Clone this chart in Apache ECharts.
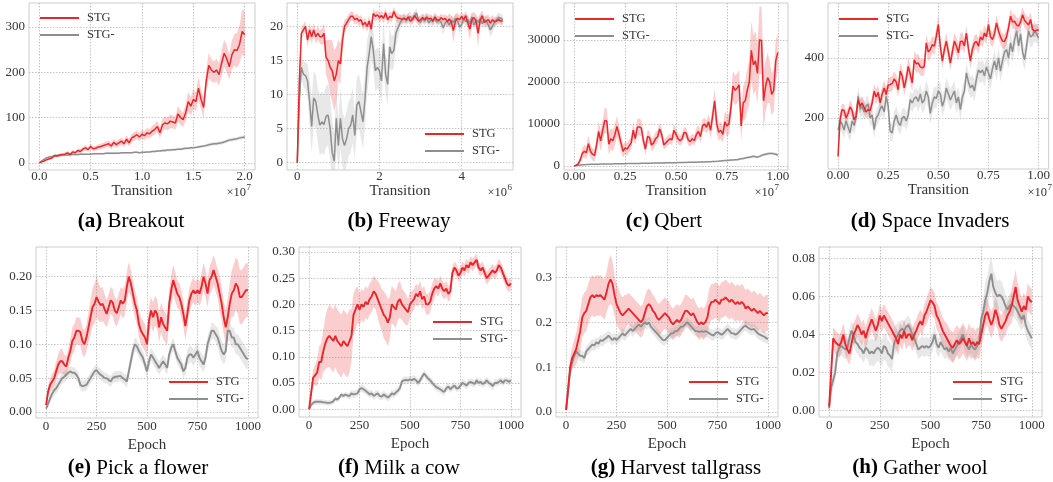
<!DOCTYPE html>
<html><head><meta charset="utf-8">
<script src="https://cdn.jsdelivr.net/npm/echarts@6/dist/echarts.min.js"></script>
<style>html,body{margin:0;padding:0;background:#fff}#c{width:1053px;height:482px}</style>
</head><body><div id="c"></div>
<script>
// ---------------- DATA ----------------
// (a) Breakout, x: 0..2.0 (x1e7), 81 samples
const breakoutStg = [0,2,4,7,9,11,16,15,17,18, 19,22,18,24,22,27,25,30,33,29, 36,31,32,35,36,38,40,42,37,45, 40,44,48,42,52,44,55,58,62,57, 63,60,66,64,70,74,80,66,84,88, 86,92,90,88,108,100,95,110,135,125, 140,135,165,140,122,180,215,205,200,205, 195,220,242,230,212,238,250,248,262,290, 283];
const breakoutStgSpread = [0,1,2,2,3,3,4,3,4,3, 4,4,4,5,4,5,5,5,6,5, 6,5,5,6,6,6,7,7,7,8, 7,8,8,8,9,8,9,10,10,9, 10,10,11,10,11,12,12,12,13,14, 14,15,14,15,18,16,16,18,22,20, 22,20,25,22,22,25,28,25,24,25, 25,28,30,30,28,32,35,38,42,50, 50];
const breakoutAbl = [0,4,8,11,13,14,15,16,16,17, 17,17,18,18,18,18,19,19,19,19, 19,20,20,20,20,20,21,21,21,21, 21,21,22,22,22,22,22,23,23,22, 23,23,24,24,25,25,26,26,27,27, 28,28,29,29,30,30,31,32,32,33, 33,34,35,36,37,38,40,41,42,42, 43,44,46,48,50,51,52,53,55,56, 57];
const breakoutAblSpread = [0,1,2,2,2,2,2,2,2,2, 2,2,2,2,2,2,2,2,2,2, 2,2,2,2,2,2,2,2,2,2, 2,2,2,2,2,2,2,2,2,2, 2,2,2,2,2,2,2,2,3,3, 3,3,3,3,3,3,3,3,3,3, 3,3,3,3,3,3,4,4,4,4, 4,4,4,4,4,4,4,4,4,4, 4];
const breakoutXTicks = [0,0.5,1,1.5,2];
const breakoutYTicks = [0,100,200,300];

// (b) Freeway, x: 0..5.0 (x1e6), 101 samples
const freewayStg = [0,12,19,19.5,20,18,19.5,18.5,19.5,18.5, 19,18.5,18.5,19,15.5,15,14,13.5,12,13, 15,14.5,18,20,20.5,21,21.5,21.5,21,21.2, 20.8,21,20.2,20.6,20,20.8,19.6,21.9,21.5,21.7, 21.3,21.6,21.2,22,21,21.5,21.3,22.2,21.5,21.2, 21.2,21.0,21.2,21.0,21.4,20.8,21.0,21.6,21.2,20.8, 21.0,21.3,21.0,21.4,21.1,21.2,20.8,21.4,21.0,20.9, 21.3,21.0,21.2,20.7,21.1,20.6,19.4,20.8,21.2,21.0, 21.5,21.0,21.6,20.5,19.6,21.0,21.3,20.8,19.0,20.9, 21.6,20.6,20.8,21.0,20.5,21.0,20.7,20.8,21.0,20.8, 20.8];
const freewayStgSpread = [0,1.5,1,0.8,0.8,1,1,1,1,1, 1,1,1.2,1.5,2.5,3,4,4.5,4.5,4, 3,3,2,1,0.8,0.8,0.7,0.7,0.7,0.7, 0.7,0.7,0.7,0.7,0.7,0.8,0.8,0.7,0.7,0.7, 0.7,0.7,0.7,0.7,0.7,0.7,0.7,0.7,0.7,0.7, 0.6,0.6,0.6,0.6,0.6,0.6,0.6,0.6,0.6,0.6, 0.6,0.6,0.6,0.6,0.6,0.6,0.6,0.6,0.6,0.6, 0.6,0.6,0.6,0.8,0.8,1,1.8,1,0.8,0.6, 0.7,0.7,0.7,1,1.5,1,0.8,1,2,1, 0.8,0.8,0.8,0.7,0.8,0.7,0.6,0.6,0.6,0.6, 0.6];
const freewayAbl = [0,9,14,13,12.8,12,9,5.3,9.5,9, 7,5.5,6,5.6,6.8,7,5,1.5,0.2,6.5, 2.5,6.5,3.5,2.5,3.5,5,5.5,7,4,8.5, 9,7.5,6,9.5,14,16,18.5,16.5,13.5,14, 13.5,12,17.5,13,11.5,17,16,16.5,19,19.8, 20.5,21,21.3,20.8,21.2,21.5,21,21.4,22,21, 20.6,21.2,20.8,21.3,20.5,21.0,20.7,21.2,20.6,21.0, 20.6,19.8,20.5,20.8,20.2,20.9,20.6,21.2,20.9,19.9, 20.3,21.2,20.7,21.0,20.4,21.4,20.2,21.0,20.6,21.1, 20.4,21.0,20.8,20.2,19.5,20.0,20.6,21.0,21.3,21.2, 21.0];
const freewayAblSpread = [0,2,1.5,2,2,2.5,3.5,4,4,4, 4,4.5,4.5,4.5,4.5,4.5,4.5,4.5,4,4.5, 4,4.5,4,4,4,4,4,4,3.5,4, 4,4,4,4,4,3.5,3,3,3,3, 3,3.5,3.5,3,3,3,2.5,2.5,2,1.5, 1,0.8,0.7,0.7,0.7,0.7,0.7,0.7,0.7,0.7, 0.7,0.7,0.7,0.7,0.7,0.7,0.7,0.7,0.7,0.7, 0.7,1,0.7,0.7,0.7,0.7,0.7,0.7,0.7,1, 0.7,0.7,0.7,0.7,0.7,0.7,0.7,0.7,0.7,0.7, 0.7,0.7,0.7,0.8,1,1,0.7,0.7,0.7,0.7, 0.7];
const freewayXTicks = [0,2,4];
const freewayYTicks = [0,5,10,15,20];

// (c) Qbert, x: 0..1.0 (x1e7), 101 samples
const qbertStg = [0,200,500,1500,3000,3500,3200,5300,3500,2800, 2500,5000,8200,6000,8500,10800,10700,5200,6500,6000, 7500,9400,7500,5500,3500,4300,4000,4800,5500,8500, 6500,9200,9300,9000,6000,4000,7000,6800,5000,5500, 6500,7000,8800,7500,5000,5500,6000,6500,6200,8500, 7500,6500,6000,6500,8000,7800,6200,5800,6500,6000, 7500,8200,7000,9500,10000,9200,10500,8500,12000,15500, 10000,8000,8500,7500,10500,9500,10000,14000,19000,18000, 18500,19300,9500,15000,15500,18000,20000,27500,24000,25000, 22000,30000,29800,15500,19000,21000,20000,17000,18000,25000, 27000];
const qbertStgSpread = [0,200,400,800,1200,1500,1500,2000,1500,1500, 1500,2000,2500,2500,2500,3000,3000,2500,2500,2500, 2500,2500,2000,2000,1500,1500,1500,1500,1500,2000, 1500,2000,2000,2000,1500,1500,1500,1500,1500,1500, 1500,1500,1500,1500,1200,1200,1200,1200,1200,1500, 1500,1200,1200,1200,1200,1200,1200,1200,1200,1200, 1500,1500,1500,1500,1500,1500,1800,2000,2500,3000, 2500,2000,2000,2000,2500,2500,2500,3000,3500,3500, 3500,3500,3500,4000,4500,5000,5500,7000,7000,7000, 7000,8000,8000,7000,6000,6000,5000,5000,5000,5000, 4500];
const qbertAbl = [0,100,200,250,300,300,350,350,400,400, 400,420,440,450,460,470,480,490,500,500, 510,520,530,540,550,560,570,580,590,600, 600,610,620,630,640,650,660,670,680,700, 700,710,720,730,740,750,760,770,780,800, 800,810,820,830,850,860,870,880,900,900, 920,940,950,960,980,1000,1000,1020,1050,1080, 1100,1150,1200,1250,1300,1300,1350,1400,1450,1500, 1500,1600,1700,1800,1900,2000,2100,2200,2300,2200, 2100,2300,2500,2700,2800,2900,3000,3000,2900,2800, 2600];
const qbertAblSpread = [0,50,80,100,100,100,100,100,100,100, 100,100,100,100,100,100,100,100,100,100, 120,120,120,120,120,120,120,120,120,120, 120,120,120,120,120,120,120,120,120,150, 150,150,150,150,150,150,150,150,150,150, 150,150,150,150,150,150,150,150,150,150, 150,150,150,150,150,150,150,150,180,180, 180,200,200,200,200,200,200,200,220,220, 220,250,250,250,280,280,300,300,300,300, 300,300,320,320,350,350,350,350,350,350, 350];
const qbertXTicks = [0,0.25,0.5,0.75,1];
const qbertYTicks = [0,10000,20000,30000];

// (d) Space Invaders, x: 0..1.0 (x1e7), 101 samples
const spaceStg = [72,194,228,225,200,215,237,225,194,205, 261,240,250,235,220,228,225,250,289,270, 285,250,280,300,278,310,311,315,330,320, 294,356,340,300,330,372,345,317,394,380, 383,370,367,372,450,420,428,444,439,472, 511,439,389,428,456,420,383,420,456,440, 417,455,456,440,483,430,389,430,450,455, 439,470,460,483,470,511,470,461,480,517, 490,470,456,455,470,500,539,520,522,510, 506,520,544,525,517,510,528,494,490,492, 494];
const spaceStgSpread = [25,25,20,20,20,20,22,22,22,25, 25,25,22,22,22,25,25,25,25,25, 25,25,25,25,25,25,25,25,25,25, 25,28,28,25,28,30,30,28,30,30, 30,28,28,28,30,30,28,28,28,30, 30,28,25,25,28,28,25,25,28,28, 28,28,28,25,25,25,25,25,25,25, 25,25,25,25,25,25,25,25,25,25, 25,25,25,25,25,25,25,25,25,25, 25,25,25,25,25,25,25,20,20,20, 20];
const spaceAbl = [160,190,180,160,190,170,150,190,175,200, 272,230,240,220,240,245,200,210,161,200, 210,230,240,220,272,240,156,150,190,210, 185,175,200,205,190,210,261,250,265,270, 255,280,250,260,290,270,215,250,270,265, 290,280,239,260,300,280,260,275,290,250, 270,228,270,290,350,320,300,310,290,330, 360,350,360,340,370,350,330,365,390,360, 400,356,390,420,428,400,450,420,460,489, 440,480,420,394,440,490,470,475,490,480, 465];
const spaceAblSpread = [30,30,30,30,30,30,30,30,30,30, 30,30,30,30,30,30,30,30,30,30, 30,30,30,30,30,30,30,30,30,30, 30,30,30,30,30,30,30,30,30,30, 35,35,35,35,35,35,35,35,35,35, 35,35,35,35,35,35,35,35,35,35, 35,35,35,35,35,35,35,35,35,35, 35,35,35,35,35,35,35,35,35,35, 35,35,35,35,35,35,35,35,35,35, 35,35,35,35,35,35,35,35,35,30, 30];
const spaceXTicks = [0,0.25,0.5,0.75,1];
const spaceYTicks = [200,400];

// bottom row: x = epoch 0..1000, 101 samples
const epochXTicks = [0,250,500,750,1000];

// (e) Pick a flower
const flowerStg = [0.01,0.03,0.04,0.045,0.05,0.06,0.07,0.075,0.075,0.07, 0.067,0.08,0.09,0.105,0.11,0.12,0.12,0.118,0.105,0.1, 0.11,0.125,0.14,0.155,0.16,0.17,0.163,0.158,0.16,0.152, 0.145,0.155,0.165,0.162,0.15,0.146,0.155,0.165,0.16,0.165, 0.185,0.2,0.19,0.175,0.16,0.15,0.13,0.12,0.115,0.11, 0.1,0.135,0.15,0.14,0.15,0.145,0.125,0.14,0.13,0.125, 0.12,0.16,0.18,0.195,0.185,0.175,0.17,0.16,0.145,0.127, 0.145,0.165,0.175,0.18,0.175,0.18,0.175,0.185,0.2,0.19, 0.175,0.195,0.2,0.21,0.2,0.19,0.175,0.16,0.14,0.125, 0.14,0.16,0.175,0.18,0.19,0.185,0.17,0.17,0.175,0.18, 0.18];
const flowerStgSpread = [0.005,0.008,0.01,0.012,0.012,0.015,0.015,0.018,0.018,0.015, 0.015,0.015,0.018,0.02,0.02,0.02,0.02,0.02,0.02,0.02, 0.02,0.022,0.025,0.028,0.03,0.03,0.028,0.025,0.025,0.022, 0.02,0.02,0.02,0.02,0.02,0.02,0.02,0.02,0.022,0.022, 0.022,0.022,0.02,0.02,0.02,0.02,0.02,0.02,0.02,0.02, 0.02,0.02,0.02,0.022,0.022,0.022,0.022,0.022,0.022,0.022, 0.022,0.022,0.022,0.022,0.022,0.02,0.02,0.02,0.02,0.02, 0.02,0.018,0.018,0.018,0.018,0.018,0.018,0.02,0.02,0.02, 0.02,0.02,0.022,0.022,0.022,0.022,0.025,0.025,0.025,0.025, 0.028,0.03,0.035,0.038,0.038,0.04,0.04,0.04,0.04,0.04, 0.04];
const flowerAbl = [0.005,0.012,0.02,0.027,0.032,0.035,0.04,0.045,0.05,0.052, 0.055,0.058,0.06,0.058,0.058,0.055,0.05,0.04,0.038,0.039, 0.04,0.045,0.05,0.055,0.06,0.062,0.058,0.055,0.053,0.05, 0.05,0.047,0.045,0.05,0.052,0.052,0.053,0.053,0.05,0.048, 0.045,0.06,0.075,0.09,0.1,0.097,0.09,0.085,0.08,0.07, 0.06,0.075,0.085,0.08,0.075,0.07,0.065,0.07,0.075,0.07, 0.065,0.085,0.095,0.1,0.09,0.08,0.075,0.07,0.06,0.065, 0.08,0.085,0.085,0.08,0.085,0.09,0.08,0.075,0.07,0.08, 0.1,0.11,0.12,0.12,0.115,0.11,0.1,0.09,0.085,0.09, 0.12,0.12,0.11,0.11,0.1,0.1,0.095,0.09,0.085,0.08, 0.078];
const flowerAblSpread = [0.002,0.004,0.006,0.007,0.008,0.008,0.008,0.008,0.008,0.008, 0.008,0.008,0.008,0.008,0.008,0.008,0.008,0.008,0.008,0.008, 0.008,0.008,0.008,0.008,0.008,0.008,0.008,0.008,0.008,0.008, 0.008,0.008,0.008,0.008,0.008,0.008,0.008,0.008,0.008,0.008, 0.01,0.01,0.01,0.01,0.01,0.01,0.01,0.01,0.01,0.01, 0.01,0.01,0.01,0.01,0.01,0.01,0.01,0.01,0.01,0.01, 0.01,0.01,0.01,0.01,0.01,0.01,0.01,0.01,0.01,0.01, 0.012,0.012,0.012,0.012,0.012,0.012,0.012,0.012,0.012,0.012, 0.012,0.012,0.012,0.012,0.012,0.015,0.015,0.015,0.015,0.015, 0.015,0.015,0.015,0.015,0.015,0.015,0.015,0.015,0.015,0.015, 0.015];
const flowerYTicks = [0,0.05,0.1,0.15,0.2];

// (f) Milk a cow
const cowStg = [0,0.03,0.06,0.065,0.07,0.09,0.09,0.11,0.125,0.135, 0.14,0.135,0.13,0.14,0.13,0.125,0.12,0.13,0.125,0.12, 0.13,0.14,0.18,0.19,0.2,0.19,0.2,0.195,0.205,0.2, 0.21,0.215,0.225,0.22,0.21,0.2,0.19,0.18,0.175,0.165, 0.175,0.2,0.195,0.19,0.205,0.21,0.2,0.195,0.19,0.185, 0.2,0.205,0.21,0.22,0.215,0.225,0.21,0.215,0.2,0.2, 0.205,0.22,0.23,0.235,0.23,0.24,0.23,0.225,0.23,0.22, 0.225,0.26,0.27,0.265,0.255,0.26,0.27,0.265,0.275,0.27, 0.28,0.275,0.28,0.285,0.27,0.265,0.27,0.26,0.25,0.255, 0.26,0.265,0.26,0.265,0.275,0.27,0.26,0.25,0.24,0.235, 0.24];
const cowStgSpread = [0,0.01,0.015,0.02,0.025,0.03,0.035,0.04,0.05,0.055, 0.06,0.06,0.06,0.06,0.06,0.06,0.06,0.06,0.06,0.06, 0.06,0.05,0.04,0.04,0.035,0.03,0.03,0.03,0.03,0.03, 0.03,0.03,0.03,0.03,0.035,0.04,0.04,0.045,0.045,0.045, 0.04,0.035,0.035,0.035,0.035,0.035,0.03,0.03,0.03,0.025, 0.025,0.02,0.02,0.02,0.02,0.02,0.02,0.02,0.02,0.02, 0.02,0.02,0.02,0.015,0.015,0.015,0.015,0.015,0.015,0.015, 0.015,0.012,0.012,0.012,0.012,0.012,0.012,0.012,0.012,0.012, 0.012,0.012,0.012,0.012,0.012,0.012,0.012,0.012,0.012,0.012, 0.012,0.012,0.012,0.012,0.012,0.012,0.012,0.012,0.012,0.012, 0.012];
const cowAbl = [0,0.008,0.012,0.014,0.014,0.014,0.014,0.013,0.013,0.012, 0.012,0.013,0.015,0.02,0.018,0.022,0.028,0.025,0.028,0.026, 0.025,0.03,0.028,0.029,0.03,0.038,0.04,0.038,0.035,0.032, 0.028,0.03,0.025,0.028,0.03,0.025,0.024,0.028,0.025,0.022, 0.025,0.03,0.028,0.032,0.035,0.04,0.053,0.055,0.056,0.055, 0.057,0.055,0.058,0.055,0.05,0.055,0.062,0.068,0.063,0.058, 0.055,0.05,0.046,0.042,0.04,0.038,0.035,0.033,0.04,0.043, 0.038,0.042,0.045,0.04,0.04,0.045,0.05,0.048,0.045,0.05, 0.052,0.05,0.048,0.055,0.05,0.052,0.048,0.05,0.055,0.05, 0.048,0.044,0.05,0.05,0.052,0.055,0.05,0.055,0.055,0.052, 0.055];
const cowAblSpread = [0.002,0.004,0.005,0.005,0.005,0.005,0.005,0.005,0.005,0.005, 0.005,0.005,0.005,0.005,0.005,0.005,0.005,0.005,0.005,0.005, 0.007,0.007,0.007,0.007,0.007,0.007,0.007,0.007,0.007,0.007, 0.007,0.007,0.007,0.007,0.007,0.007,0.007,0.007,0.007,0.007, 0.007,0.007,0.007,0.007,0.007,0.007,0.007,0.007,0.007,0.007, 0.007,0.007,0.007,0.007,0.007,0.007,0.007,0.007,0.007,0.007, 0.007,0.007,0.007,0.007,0.007,0.007,0.007,0.007,0.007,0.007, 0.007,0.007,0.007,0.007,0.007,0.007,0.007,0.007,0.007,0.007, 0.007,0.007,0.007,0.007,0.007,0.007,0.007,0.007,0.007,0.007, 0.007,0.007,0.007,0.007,0.007,0.007,0.007,0.007,0.007,0.007, 0.007];
const cowYTicks = [0,0.05,0.1,0.15,0.2,0.25,0.3];

// (g) Harvest tallgrass
const tallStg = [0.005,0.05,0.1,0.12,0.13,0.14,0.16,0.18,0.21,0.22, 0.225,0.24,0.255,0.26,0.255,0.26,0.258,0.26,0.255,0.25, 0.265,0.285,0.295,0.285,0.26,0.24,0.23,0.22,0.215,0.22, 0.225,0.23,0.225,0.22,0.215,0.21,0.205,0.2,0.205,0.22, 0.235,0.24,0.235,0.225,0.22,0.21,0.205,0.21,0.215,0.22, 0.215,0.21,0.2,0.195,0.2,0.205,0.2,0.205,0.215,0.225, 0.225,0.22,0.215,0.22,0.21,0.2,0.195,0.2,0.195,0.2, 0.21,0.235,0.245,0.245,0.25,0.245,0.24,0.25,0.25,0.255, 0.25,0.245,0.25,0.245,0.24,0.245,0.24,0.245,0.24,0.23, 0.235,0.23,0.225,0.23,0.225,0.22,0.225,0.22,0.215,0.22, 0.22];
const tallStgSpread = [0.005,0.01,0.02,0.025,0.03,0.035,0.04,0.045,0.045,0.045, 0.045,0.045,0.045,0.045,0.045,0.045,0.045,0.045,0.045,0.045, 0.045,0.05,0.055,0.05,0.045,0.045,0.045,0.04,0.04,0.04, 0.035,0.035,0.035,0.035,0.035,0.035,0.035,0.035,0.035,0.035, 0.035,0.035,0.035,0.035,0.035,0.035,0.035,0.035,0.035,0.035, 0.035,0.035,0.035,0.035,0.035,0.035,0.035,0.035,0.035,0.035, 0.035,0.035,0.035,0.035,0.035,0.035,0.035,0.035,0.035,0.035, 0.04,0.04,0.04,0.04,0.04,0.04,0.04,0.04,0.04,0.04, 0.04,0.04,0.04,0.04,0.04,0.04,0.04,0.04,0.04,0.04, 0.04,0.04,0.04,0.04,0.04,0.04,0.04,0.04,0.04,0.04, 0.04];
const tallAbl = [0.005,0.05,0.09,0.11,0.125,0.135,0.13,0.125,0.125,0.12, 0.135,0.14,0.145,0.15,0.148,0.155,0.152,0.16,0.158,0.162, 0.165,0.17,0.165,0.16,0.165,0.16,0.165,0.17,0.175,0.17, 0.175,0.18,0.185,0.18,0.185,0.19,0.195,0.19,0.195,0.2, 0.195,0.2,0.19,0.185,0.18,0.175,0.17,0.165,0.16,0.16, 0.165,0.17,0.175,0.175,0.18,0.18,0.185,0.19,0.19,0.195, 0.2,0.195,0.19,0.185,0.18,0.18,0.178,0.18,0.178,0.18, 0.178,0.175,0.172,0.17,0.175,0.178,0.175,0.172,0.175,0.18, 0.185,0.18,0.175,0.175,0.172,0.175,0.18,0.185,0.19,0.192, 0.188,0.185,0.183,0.185,0.18,0.175,0.172,0.17,0.168,0.165, 0.162];
const tallAblSpread = [0.003,0.008,0.01,0.012,0.012,0.012,0.012,0.012,0.012,0.012, 0.012,0.012,0.012,0.012,0.012,0.012,0.012,0.012,0.012,0.012, 0.012,0.012,0.012,0.012,0.012,0.012,0.012,0.012,0.012,0.012, 0.012,0.012,0.012,0.012,0.012,0.012,0.012,0.012,0.012,0.012, 0.012,0.012,0.012,0.012,0.012,0.012,0.012,0.012,0.012,0.012, 0.012,0.012,0.012,0.012,0.012,0.012,0.012,0.012,0.012,0.012, 0.012,0.012,0.012,0.012,0.012,0.012,0.012,0.012,0.012,0.012, 0.012,0.012,0.012,0.012,0.012,0.012,0.012,0.012,0.012,0.012, 0.012,0.012,0.012,0.012,0.012,0.012,0.012,0.012,0.012,0.012, 0.012,0.012,0.012,0.012,0.012,0.012,0.012,0.012,0.012,0.012, 0.012];
const tallYTicks = [0,0.1,0.2,0.3];

// (h) Gather wool
const woolStg = [0.002,0.02,0.038,0.036,0.035,0.034,0.036,0.04,0.035,0.032, 0.03,0.035,0.04,0.042,0.045,0.043,0.04,0.042,0.038,0.042, 0.045,0.048,0.045,0.042,0.045,0.05,0.047,0.05,0.048,0.046, 0.044,0.042,0.04,0.038,0.035,0.04,0.038,0.042,0.038,0.04, 0.04,0.037,0.04,0.042,0.045,0.047,0.045,0.05,0.052,0.055, 0.058,0.057,0.055,0.05,0.048,0.045,0.042,0.04,0.038,0.036, 0.034,0.033,0.035,0.037,0.035,0.036,0.038,0.036,0.034,0.038, 0.035,0.036,0.034,0.036,0.035,0.04,0.045,0.05,0.052,0.048, 0.045,0.048,0.053,0.05,0.045,0.043,0.045,0.047,0.05,0.052, 0.055,0.06,0.065,0.058,0.055,0.052,0.055,0.053,0.06,0.058, 0.057];
const woolStgSpread = [0.002,0.004,0.006,0.006,0.006,0.006,0.006,0.006,0.006,0.006, 0.006,0.006,0.006,0.006,0.006,0.006,0.006,0.006,0.006,0.006, 0.006,0.006,0.006,0.006,0.006,0.006,0.006,0.006,0.006,0.006, 0.006,0.006,0.006,0.006,0.006,0.006,0.006,0.006,0.006,0.006, 0.006,0.006,0.006,0.006,0.006,0.006,0.006,0.006,0.007,0.007, 0.007,0.007,0.007,0.007,0.007,0.007,0.007,0.007,0.008,0.008, 0.008,0.008,0.008,0.008,0.008,0.008,0.008,0.008,0.008,0.008, 0.008,0.008,0.008,0.008,0.008,0.007,0.007,0.007,0.007,0.007, 0.007,0.007,0.007,0.007,0.007,0.007,0.007,0.007,0.007,0.007, 0.009,0.009,0.009,0.009,0.008,0.007,0.007,0.007,0.007,0.007, 0.007];
const woolAbl = [0.001,0.012,0.016,0.02,0.03,0.033,0.034,0.033,0.032,0.033, 0.038,0.042,0.04,0.036,0.035,0.033,0.032,0.03,0.033,0.032, 0.03,0.031,0.03,0.032,0.033,0.032,0.03,0.034,0.033,0.03, 0.029,0.027,0.035,0.038,0.04,0.042,0.043,0.042,0.044,0.045, 0.043,0.04,0.038,0.035,0.032,0.033,0.034,0.033,0.034,0.033, 0.034,0.036,0.04,0.035,0.033,0.036,0.034,0.032,0.033,0.031, 0.033,0.03,0.032,0.034,0.036,0.038,0.04,0.036,0.034,0.032, 0.035,0.033,0.032,0.034,0.036,0.048,0.052,0.058,0.062,0.068, 0.072,0.065,0.062,0.06,0.061,0.06,0.058,0.055,0.053,0.055, 0.056,0.055,0.054,0.052,0.05,0.048,0.05,0.045,0.042,0.04, 0.038];
const woolAblSpread = [0.001,0.003,0.005,0.005,0.005,0.005,0.005,0.005,0.005,0.005, 0.005,0.005,0.005,0.005,0.005,0.005,0.005,0.005,0.005,0.005, 0.007,0.007,0.007,0.007,0.007,0.007,0.007,0.007,0.007,0.007, 0.007,0.007,0.007,0.007,0.007,0.005,0.005,0.005,0.005,0.005, 0.005,0.005,0.005,0.005,0.005,0.005,0.005,0.005,0.005,0.005, 0.005,0.005,0.005,0.005,0.005,0.005,0.005,0.005,0.005,0.005, 0.005,0.005,0.005,0.005,0.005,0.005,0.005,0.005,0.005,0.005, 0.005,0.005,0.005,0.005,0.005,0.007,0.008,0.009,0.009,0.009, 0.009,0.009,0.009,0.008,0.008,0.008,0.007,0.006,0.006,0.006, 0.006,0.006,0.006,0.006,0.006,0.006,0.006,0.006,0.006,0.006, 0.006];
const woolYTicks = [0,0.02,0.04,0.06,0.08];

// ---------------- STYLE / LAYOUT ----------------
const FONT = 'Liberation Serif';
const RED = '#e8262b', GRAY = '#8e8e8e';
const RED_BAND = 'rgba(236,60,60,0.25)', GRAY_BAND = 'rgba(150,150,150,0.22)';
const TXT = '#333';

const f0 = v => String(v), f1 = v => v.toFixed(1), f2 = v => v.toFixed(2);

const panels = [
  {stg:breakoutStg, stgS:breakoutStgSpread, abl:breakoutAbl, ablS:breakoutAblSpread, xEnd:2.0,
   g:{left:29,top:3,width:226,height:167}, xr:[-0.1,2.1], yr:[-16,353], xt:breakoutXTicks, yt:breakoutYTicks, xf:f1, yf:f0,
   xName:'Transition', exp:'7', expRight:251, lg:{left:40,top:11}, cap:'(a)', capText:' Breakout', capX:131, row:0},
  {stg:freewayStg, stgS:freewayStgSpread, abl:freewayAbl, ablS:freewayAblSpread, xEnd:5.0,
   g:{left:287,top:3,width:226,height:167}, xr:[-0.25,5.25], yr:[-1.08,23.45], xt:freewayXTicks, yt:freewayYTicks, xf:f0, yf:f0,
   xName:'Transition', exp:'6', expRight:512, lg:{left:425,top:127}, cap:'(b)', capText:' Freeway', capX:399, row:0},
  {stg:qbertStg, stgS:qbertStgSpread, abl:qbertAbl, ablS:qbertAblSpread, xEnd:1.0,
   g:{left:564,top:3,width:224,height:167}, xr:[-0.05,1.05], yr:[-950,38740], xt:qbertXTicks, yt:qbertYTicks, xf:f2, yf:f0,
   xName:'Transition', exp:'7', expRight:779, lg:{left:575,top:12}, cap:'(c)', capText:' Qbert', capX:664, row:0},
  {stg:spaceStg, stgS:spaceStgSpread, abl:spaceAbl, ablS:spaceAblSpread, xEnd:1.0,
   g:{left:828,top:3,width:223,height:166}, xr:[-0.05,1.05], yr:[30,583], xt:spaceXTicks, yt:spaceYTicks, xf:f2, yf:f0,
   xName:'Transition', exp:'7', expRight:1052, lg:{left:839,top:12}, cap:'(d)', capText:' Space Invaders', capX:930, row:0},
  {stg:flowerStg, stgS:flowerStgSpread, abl:flowerAbl, ablS:flowerAblSpread, xEnd:1000,
   g:{left:36,top:247,width:222,height:171}, xr:[-50,1050], yr:[-0.009,0.244], xt:epochXTicks, yt:flowerYTicks, xf:f0, yf:f2,
   xName:'Epoch', lg:{left:169,top:375}, cap:'(e)', capText:' Pick a flower', capX:138, row:1},
  {stg:cowStg, stgS:cowStgSpread, abl:cowAbl, ablS:cowAblSpread, xEnd:1000,
   g:{left:299,top:247,width:222,height:170}, xr:[-50,1050], yr:[-0.015,0.3095], xt:epochXTicks, yt:cowYTicks, xf:f0, yf:f2,
   xName:'Epoch', lg:{left:433,top:315}, cap:'(f)', capText:' Milk a cow', capX:399, row:1},
  {stg:tallStg, stgS:tallStgSpread, abl:tallAbl, ablS:tallAblSpread, xEnd:1000,
   g:{left:556,top:247,width:222,height:170}, xr:[-50,1050], yr:[-0.011,0.367], xt:epochXTicks, yt:tallYTicks, xf:f0, yf:f1,
   xName:'Epoch', lg:{left:689,top:375}, cap:'(g)', capText:' Harvest tallgrass', capX:676, row:1},
  {stg:woolStg, stgS:woolStgSpread, abl:woolAbl, ablS:woolAblSpread, xEnd:1000,
   g:{left:819,top:247,width:223,height:170}, xr:[-50,1050], yr:[-0.0035,0.0861], xt:epochXTicks, yt:woolYTicks, xf:f0, yf:f2,
   xName:'Epoch', lg:{left:953,top:375}, cap:'(h)', capText:' Gather wool', capX:920, row:1}
];

// sampling grid (evenly spaced evaluation points of the logged curves)
function sampleX(n, end) { const a = []; for (let i = 0; i < n; i++) a.push(end * i / (n - 1)); return a; }
function pairs(x, y) { return x.map((v, i) => [v, y[i]]); }

// shaded band: one polygon through the library's coordinate conversion
function bandSeries(i, x, mean, sd, color) {
  const rows = x.map((v, k) => [v, mean[k] - sd[k], mean[k] + sd[k]]);
  return {
    type:'custom', xAxisIndex:i, yAxisIndex:i, silent:true, z:1,
    data:rows, encode:{x:0, y:[1, 2]},
    renderItem:(params, api) => {
      if (params.dataIndex !== 0) return null;
      const up = [], dn = [];
      for (let k = 0; k < rows.length; k++) {
        up.push(api.coord([rows[k][0], rows[k][2]]));
        dn.push(api.coord([rows[k][0], rows[k][1]]));
      }
      const cs = params.coordSys;
      return {type:'polygon', shape:{points:up.concat(dn.reverse())}, style:{fill:color},
        clipPath:{type:'rect', shape:{x:cs.x, y:cs.y, width:cs.width, height:cs.height}}};
    }
  };
}

const grid = [], xAxis = [], yAxis = [], series = [], legend = [], graphic = [];
panels.forEach((p, i) => {
  const x = sampleX(p.stg.length, p.xEnd);
  const lw = p.row ? 1.9 : 1.5;
  grid.push(Object.assign({show:true, borderColor:'#cdcdcd', borderWidth:1, backgroundColor:'#fff'}, p.g));
  const split = {show:true, lineStyle:{type:[1.5,1.5], color:'#b8b8b8', width:0.8}};
  xAxis.push({type:'value', gridIndex:i, min:p.xr[0], max:p.xr[1],
    axisLine:{show:false}, axisTick:{show:false, customValues:p.xt},
    axisLabel:{customValues:p.xt, formatter:p.xf, margin:p.row ? 2 : 0, color:TXT, fontFamily:FONT, fontSize:13},
    splitLine:split,
    name:p.xName, nameLocation:'middle', nameGap:p.row ? 20 : 14,
    nameTextStyle:{fontFamily:FONT, fontSize:15, color:TXT, verticalAlign:'top'}});
  yAxis.push({type:'value', gridIndex:i, min:p.yr[0], max:p.yr[1],
    axisLine:{show:false}, axisTick:{show:false, customValues:p.yt},
    axisLabel:{customValues:p.yt, formatter:p.yf, margin:4, color:TXT, fontFamily:FONT, fontSize:13},
    splitLine:split});
  series.push(bandSeries(i, x, p.stg, p.stgS, RED_BAND));
  series.push(bandSeries(i, x, p.abl, p.ablS, GRAY_BAND));
  series.push({type:'line', name:'STG', xAxisIndex:i, yAxisIndex:i, data:pairs(x, p.stg), symbol:'none',
    lineStyle:{color:RED, width:lw}, itemStyle:{color:RED}, z:4});
  series.push({type:'line', name:'STG-', xAxisIndex:i, yAxisIndex:i, data:pairs(x, p.abl), symbol:'none',
    lineStyle:{color:GRAY, width:lw}, itemStyle:{color:GRAY}, z:3});
  legend.push({data:['STG','STG-'], orient:'vertical', left:p.lg.left, top:p.lg.top, icon:'rect',
    itemWidth:39, itemHeight:2, itemGap:3, selectedMode:false, padding:0,
    textStyle:{fontFamily:FONT, fontSize:12.5, color:TXT, lineHeight:14, padding:[0,0,0,3]}});
  const capY = p.row ? 468 : 221.5;
  graphic.push({type:'text', x:p.capX, y:capY, style:{text:'{b|' + p.cap + '}' + p.capText,
    align:'center', verticalAlign:'middle', fill:'#000', font:'21px "' + FONT + '"',
    rich:{b:{fontWeight:'bold', fontSize:21, fontFamily:FONT, fill:'#000'}}}});
  if (p.exp) {
    graphic.push({type:'text', x:p.expRight - 5, y:192.5, style:{text:'\u00d710', align:'right', verticalAlign:'middle',
      fill:TXT, font:'12.5px "' + FONT + '"'}});
    graphic.push({type:'text', x:p.expRight - 4.5, y:187.5, style:{text:p.exp, align:'left', verticalAlign:'middle',
      fill:TXT, font:'9px "' + FONT + '"'}});
  }
});

const chart = echarts.init(document.getElementById('c'), null, {renderer:'canvas'});
chart.setOption({animation:false, backgroundColor:'#fff', grid, xAxis, yAxis, series, legend, graphic});
</script>
</body></html>
